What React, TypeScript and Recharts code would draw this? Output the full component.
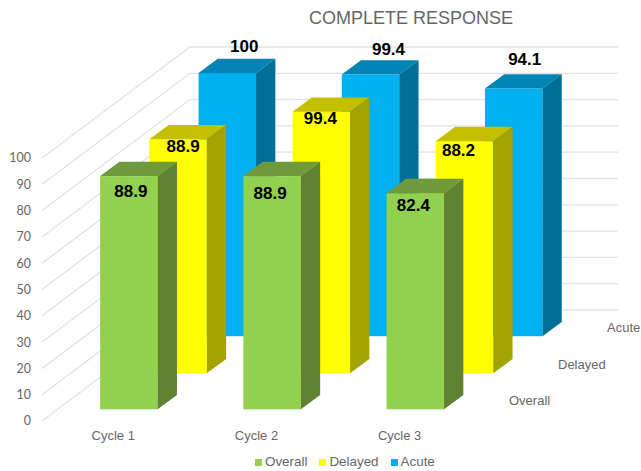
import React from "react";
import { BarChart, Bar, XAxis, YAxis, CartesianGrid, Legend, LabelList } from "recharts";

const cycles = ["Cycle 1", "Cycle 2", "Cycle 3"];
const overall = [88.9, 88.9, 82.4];
const delayed = [88.9, 99.4, 88.2];
const acute = [100, 99.4, 94.1];
const valueTicks = [0, 10, 20, 30, 40, 50, 60, 70, 80, 90, 100];
const seriesNames = ["Overall", "Delayed", "Acute"];

const data = cycles.map((cycle, i) => ({
  cycle,
  Overall: overall[i],
  Delayed: delayed[i],
  Acute: acute[i],
}));

const FONT = "'Liberation Sans', Arial, sans-serif";
const TEXT = "#666666";
const DEPTH_X = 19.3;
const DEPTH_Y = 14.3;
const BAR_W = 57.5;

const styles: Record<string, any> = {
  Overall: {
    front: "#92D050", top: "#6E9A3C", side: "#5E8232",
    xPad: { left: 15.15, right: 131.25 }, yPad: { top: 74.5, bottom: 11.7 },
    nudges: [[2, 15], [-2, 17], [-2, 12]],
  },
  Delayed: {
    front: "#FFFF00", top: "#C4C000", side: "#A5A300",
    xPad: { left: 64.35, right: 82.05 }, yPad: { top: 37.6, bottom: 47.7 },
    nudges: [[5, 7], [-1, 7], [-6, 9]],
  },
  Acute: {
    front: "#00B0F0", top: "#0084B4", side: "#006F98",
    xPad: { left: 113.55, right: 32.85 }, yPad: { top: 0.5, bottom: 84.8 },
    nudges: [[17, -27], [18, -25], [11, -29]],
  },
};

const depthLabels: Record<string, [number, number]> = {
  Overall: [509, 405],
  Delayed: [558, 369],
  Acute: [607, 332],
};

function Box3D(props: any) {
  const { x, y, width, height, fill, top, side } = props;
  const r = x + width;
  const b = y + height;
  return (
    <g>
      <rect x={x} y={y} width={width} height={height} fill={fill} />
      <polygon
        points={`${x},${y} ${x + DEPTH_X},${y - DEPTH_Y} ${r + DEPTH_X},${y - DEPTH_Y} ${r},${y}`}
        fill={top}
      />
      <polygon
        points={`${r},${y} ${r + DEPTH_X},${y - DEPTH_Y} ${r + DEPTH_X},${b - DEPTH_Y} ${r},${b}`}
        fill={side}
      />
    </g>
  );
}

function GridPath(props: any) {
  const y = props.y1;
  // The grid also reports the plot's upper edge, which is not a tick of the value axis.
  if (y < 150) return <g />;
  const backY = y - 111;
  return (
    <path
      d={`M42,${y} L190,${backY} L618,${backY}`}
      fill="none"
      stroke="#E2E2E2"
      strokeWidth={1.3}
    />
  );
}

function makeLabel(name: string) {
  return (p: any) => {
    const n = styles[name].nudges[p.index] || [0, 0];
    return (
      <text
        x={p.x + p.width / 2 + n[0]}
        y={p.y + n[1]}
        textAnchor="middle"
        dominantBaseline="central"
        fontFamily={FONT}
        fontWeight="bold"
        fontSize={17}
        fill="#000"
      >
        {p.value}
      </text>
    );
  };
}

function LegendContent() {
  return (
    <div style={{ display: "flex", fontFamily: FONT, fontSize: 13.4, color: TEXT, lineHeight: "18px", marginTop: 2 }}>
      {seriesNames.map((name) => (
        <div key={name} style={{ display: "flex", alignItems: "center", marginRight: 12 }}>
          <span style={{ width: 7, height: 7, background: styles[name].front, marginRight: 3, display: "inline-block" }} />
          {name}
        </div>
      ))}
    </div>
  );
}

export default function App() {
  return (
    <div style={{ position: "absolute", left: 0, top: 0, width: 641, height: 471 }}>
      <BarChart
        width={641}
        height={471}
        data={data}
        margin={{ top: 72.5, right: 23, bottom: 2, left: 0 }}
      >
        <YAxis
          yAxisId="main"
          width={42}
          type="number"
          domain={[0, 100]}
          ticks={valueTicks}
          interval={0}
          padding={{ top: 85.5, bottom: 0 }}
          axisLine={false}
          tickLine={false}
          tickMargin={6}
          tick={{ fill: TEXT, fontFamily: "Lato, sans-serif", fontSize: 12.5, dx: 1 }}
        />
        {seriesNames.map((name) => (
          <YAxis
            key={name}
            yAxisId={name}
            hide
            width={0}
            type="number"
            domain={[0, 100]}
            padding={styles[name].yPad}
          />
        ))}
        <XAxis
          xAxisId="Overall"
          dataKey="cycle"
          height={30}
          padding={styles.Overall.xPad}
          axisLine={false}
          tickLine={false}
          interval={0}
          tickMargin={4}
          tick={{ fill: TEXT, fontFamily: FONT, fontSize: 13, dx: -15.5 }}
        />
        <XAxis xAxisId="Delayed" dataKey="cycle" hide height={0} padding={styles.Delayed.xPad} />
        <XAxis xAxisId="Acute" dataKey="cycle" hide height={0} padding={styles.Acute.xPad} />
        <XAxis xAxisId="grid" dataKey="cycle" hide height={0} />
        <CartesianGrid
          xAxisId="grid"
          yAxisId="main"
          vertical={false}
          horizontal={(p: any) => <GridPath key={p.key} {...p} />}
        />
        <Bar
          dataKey="Acute"
          xAxisId="grid"
          yAxisId="main"
          isAnimationActive={false}
          legendType="none"
          fill="none"
          shape={() => null}
        />
        {[...seriesNames].reverse().map((name) => (
          <Bar
            key={name}
            dataKey={name}
            xAxisId={name}
            yAxisId={name}
            barSize={BAR_W}
            isAnimationActive={false}
            fill={styles[name].front}
            shape={(p: any) => (
              <Box3D {...p} fill={styles[name].front} top={styles[name].top} side={styles[name].side} />
            )}
          >
            <LabelList dataKey={name} content={makeLabel(name)} />
          </Bar>
        ))}
        <Legend
          verticalAlign="bottom"
          height={18}
          content={<LegendContent />}
          wrapperStyle={{ left: 255, width: 220 }}
        />
        <text x={411} y={24} textAnchor="middle" fontFamily={FONT} fontSize={18} fill={TEXT}>
          COMPLETE RESPONSE
        </text>
        {seriesNames.map((name) => (
          <text key={name} x={depthLabels[name][0]} y={depthLabels[name][1]} fontFamily={FONT} fontSize={13} fill={TEXT}>
            {name}
          </text>
        ))}
      </BarChart>
    </div>
  );
}
